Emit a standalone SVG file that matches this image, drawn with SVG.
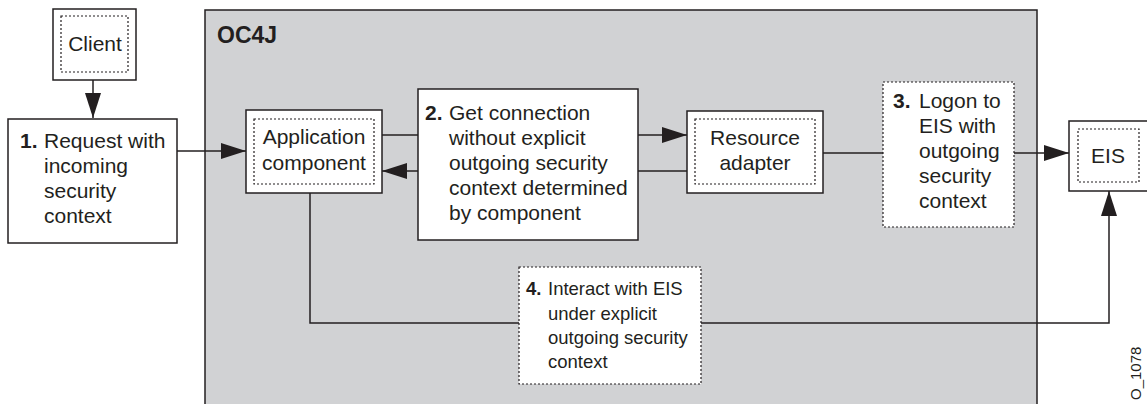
<svg xmlns="http://www.w3.org/2000/svg" width="1147" height="404" viewBox="0 0 1147 404">
<style>
text{font-family:"Liberation Sans",Arial,sans-serif;font-size:21px;fill:#231f20}
.b{font-weight:bold}
.s{font-size:18.5px}
.box{fill:#fff;stroke:#231f20;stroke-width:1.5}
.dash{fill:none;stroke:#231f20;stroke-width:1.2;stroke-dasharray:2,2}
.dbox{fill:#fff;stroke:#231f20;stroke-width:1.2;stroke-dasharray:2,2}
.ln{fill:none;stroke:#231f20;stroke-width:1.5}
</style>
<defs>
<marker id="ah" markerUnits="userSpaceOnUse" markerWidth="26" markerHeight="18" refX="25" refY="8" orient="auto">
<path d="M0,0 L25,8 L0,16 z" fill="#231f20"/>
</marker>
</defs>
<rect width="1147" height="404" fill="#fff"/>
<g id="oc4j">
<rect x="205" y="10" width="832" height="400" fill="#d1d2d4" stroke="#231f20" stroke-width="1.5"/>
<text x="217" y="43" class="b" style="font-size:23px">OC4J</text>
</g>
<g id="connectors">
<line class="ln" x1="93" y1="80" x2="93" y2="118" marker-end="url(#ah)"/>
<line class="ln" x1="177" y1="151" x2="246" y2="151" marker-end="url(#ah)"/>
<line class="ln" x1="382" y1="135" x2="418" y2="135"/>
<line class="ln" x1="418" y1="171" x2="382" y2="171" marker-end="url(#ah)"/>
<line class="ln" x1="638" y1="135" x2="687" y2="135" marker-end="url(#ah)"/>
<line class="ln" x1="638" y1="171" x2="687" y2="171"/>
<line class="ln" x1="823" y1="153" x2="883" y2="153"/>
<line class="ln" x1="1014" y1="153" x2="1069" y2="153" marker-end="url(#ah)"/>
<polyline class="ln" points="310,193 310,323 1109,323 1109,191" marker-end="url(#ah)"/>
</g>
<g id="client">
<rect class="box" x="53" y="9" width="83" height="71"/>
<rect class="dash" x="61" y="16" width="67" height="56"/>
<text x="95" y="51" text-anchor="middle">Client</text>
</g>
<g id="step1">
<rect class="box" x="8" y="119" width="169" height="124"/>
<text x="20" y="148" class="b">1.</text>
<text x="44" y="148">Request with</text>
<text x="44" y="173">incoming</text>
<text x="44" y="198">security</text>
<text x="44" y="223">context</text>
</g>
<g id="app">
<rect class="box" x="246" y="110" width="136" height="83"/>
<rect class="dash" x="254" y="119" width="120" height="65"/>
<text x="314" y="144" text-anchor="middle">Application</text>
<text x="314" y="170" text-anchor="middle">component</text>
</g>
<g id="step2">
<rect class="box" x="418" y="89" width="220" height="151"/>
<text x="425" y="120" class="b">2.</text>
<text x="449" y="120">Get connection</text>
<text x="449" y="145">without explicit</text>
<text x="449" y="170">outgoing security</text>
<text x="449" y="195">context determined</text>
<text x="449" y="220">by component</text>
</g>
<g id="adapter">
<rect class="box" x="687" y="111" width="136" height="82"/>
<rect class="dash" x="695" y="119" width="120" height="65"/>
<text x="755" y="145" text-anchor="middle">Resource</text>
<text x="755" y="170" text-anchor="middle">adapter</text>
</g>
<g id="step3">
<rect class="dbox" x="883" y="82" width="131" height="145"/>
<text x="893" y="108" class="b">3.</text>
<text x="919" y="108">Logon to</text>
<text x="919" y="133">EIS with</text>
<text x="919" y="158">outgoing</text>
<text x="919" y="183">security</text>
<text x="919" y="208">context</text>
</g>
<g id="eis">
<rect class="box" x="1069" y="121" width="80" height="70"/>
<rect class="dash" x="1078" y="129" width="61" height="53"/>
<text x="1108" y="163" text-anchor="middle">EIS</text>
</g>
<g id="step4">
<rect class="dbox" x="519" y="267" width="182" height="117"/>
<text x="526" y="295" class="b s">4.</text>
<text x="548" y="295" class="s">Interact with EIS</text>
<text x="548" y="320" class="s">under explicit</text>
<text x="548" y="344" class="s">outgoing security</text>
<text x="548" y="368" class="s">context</text>
</g>
<text x="0" y="0" transform="translate(1141,400) rotate(-90)" style="font-size:15px">O_1078</text>
</svg>
